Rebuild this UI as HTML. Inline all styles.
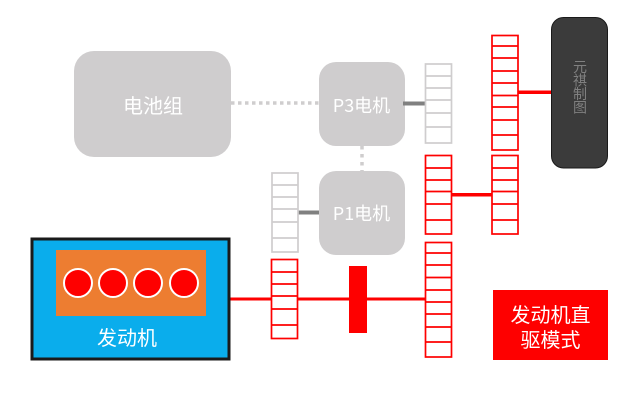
<!DOCTYPE html>
<html>
<head>
<meta charset="utf-8">
<style>
html,body{margin:0;padding:0;background:#fff;}
svg{display:block;}
text{font-family:"Noto Sans CJK SC","Liberation Sans",sans-serif;}
</style>
</head>
<body>
<svg width="640" height="402" viewBox="0 0 640 402" xmlns="http://www.w3.org/2000/svg">
<rect width="640" height="402" fill="#fff"/>

<!-- dotted links -->
<line x1="231" y1="103" x2="319" y2="103" stroke="#cfcdce" stroke-width="3.5" stroke-dasharray="3.5 3.5"/>
<line x1="362" y1="146" x2="362" y2="171" stroke="#cfcdce" stroke-width="3.5" stroke-dasharray="3.5 4.5"/>

<!-- gray nodes -->
<rect x="74" y="51" width="157" height="106" rx="20" fill="#cfcdce"/>
<rect x="319" y="62" width="86" height="84" rx="17" fill="#cfcdce"/>
<rect x="319" y="171" width="86" height="84" rx="17" fill="#cfcdce"/>
<text x="153" y="113" font-size="20" fill="#fff" text-anchor="middle">电池组</text>
<text x="361.500" y="112" font-size="18" fill="#fff" text-anchor="middle">P3电机</text>
<text x="361.500" y="220" font-size="18" fill="#fff" text-anchor="middle">P1电机</text>

<!-- gray shafts -->
<rect x="403" y="101.500" width="22" height="4" fill="#808080"/>
<rect x="298" y="210.500" width="21" height="4" fill="#808080"/>

<!-- gray gears -->
<g fill="none" stroke="#cfcdce" stroke-width="1.7">
<rect x="425.500" y="64" width="26" height="79"/>
<path d="M425 76H452M425 88H452M425 100H452M425 113H452M425 127H452"/>
<rect x="272" y="173" width="26" height="79"/>
<path d="M272 185H298M272 197H298M272 209H298M272 222H298M272 238H298"/>
</g>

<!-- red shafts -->
<g fill="#fe0000">
<rect x="230" y="297.500" width="41" height="3"/>
<rect x="297" y="297.500" width="128" height="3"/>
<rect x="451" y="193" width="41" height="3.500"/>
<rect x="518" y="90.500" width="34" height="3.500"/>
<rect x="349" y="266" width="18" height="67"/>
</g>

<!-- red gears -->
<g fill="none" stroke="#fe0000" stroke-width="1.7">
<rect x="492" y="35.500" width="26" height="114.500"/>
<path d="M492 46H518M492 58H518M492 71H518M492 83H518M492 95.500H518M492 107H518M492 120H518M492 135H518"/>
<rect x="425.500" y="155.500" width="26" height="78.500"/>
<path d="M425 168H452M425 180H452M425 191.500H452M425 204H452M425 220H452"/>
<rect x="492" y="155.500" width="26" height="78.500"/>
<path d="M492 168H518M492 180H518M492 191.500H518M492 204H518M492 220H518"/>
<rect x="271.500" y="259.500" width="26" height="79"/>
<path d="M271 272H298M271 284H298M271 296H298M271 309H298M271 325H298"/>
<rect x="425.500" y="242.500" width="26" height="114.500"/>
<path d="M425 253H452M425 265H452M425 277.500H452M425 290H452M425 302H452M425 314H452M425 327H452M425 342H452"/>
</g>

<!-- dark unit -->
<rect x="551.500" y="17.500" width="56" height="150.500" rx="12" fill="#3b3b3b" stroke="#1a1a1a" stroke-width="1"/>
<g font-size="14" fill="#808080" text-anchor="middle">
<text x="580" y="72">元</text>
<text x="580" y="85.500">祺</text>
<text x="580" y="99">制</text>
<text x="580" y="112.500">图</text>
</g>

<!-- engine -->
<rect x="32" y="239" width="197" height="120" fill="#0aadec" stroke="#1a1a1a" stroke-width="3"/>
<rect x="56" y="250" width="150" height="66" fill="#ed7d31"/>
<g fill="#fe0000" stroke="#fff" stroke-width="2">
<circle cx="78" cy="283" r="14"/>
<circle cx="113" cy="283" r="14"/>
<circle cx="148" cy="283" r="14"/>
<circle cx="184" cy="283" r="14"/>
</g>
<text x="127" y="345" font-size="20" fill="#fff" text-anchor="middle">发动机</text>

<!-- mode label -->
<rect x="493" y="290" width="115" height="70" fill="#fe0000"/>
<text x="550.500" y="322" font-size="20" fill="#fff" text-anchor="middle">发动机直</text>
<text x="550.500" y="347" font-size="20" fill="#fff" text-anchor="middle">驱模式</text>
</svg>
</body>
</html>
